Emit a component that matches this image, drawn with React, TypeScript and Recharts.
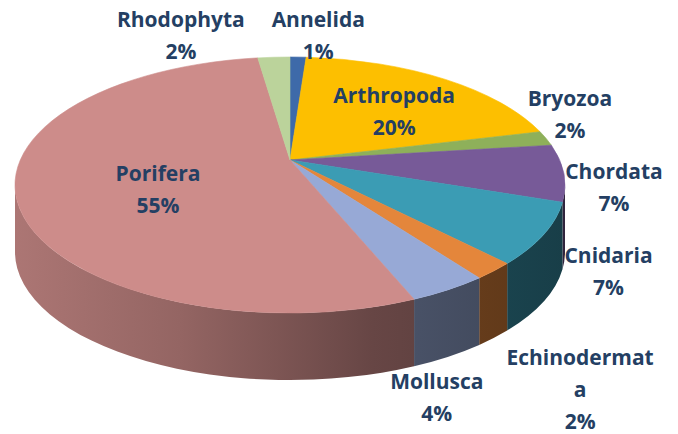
import React from 'react';
import { PieChart, Pie } from 'recharts';

// ---- data ----
const categories = ['Annelida', 'Arthropoda', 'Bryozoa', 'Chordata', 'Cnidaria', 'Echinodermata', 'Mollusca', 'Porifera', 'Rhodophyta'];
const shares = [1, 20, 2, 7, 7, 2, 4, 55, 2];
const topColors = ['#3e6aa9', '#fdbf00', '#8eb05a', '#775a98', '#3b9cb4', '#e4863b', '#97a9d6', '#cd8c8a', '#bbd39b'];
const labelWraps: Record<string, string[]> = { Echinodermata: ['Echinodermat', 'a'] };

// label placement: radial factor on the ellipse and angle shift from the slice mid-angle
const labelRadius = [1.17, 0.68, 1.157, 1.186, 1.36, 1.94, 1.77, 0.476, 1.228];
const labelAngleShift = [-3.6, 5, 16.8, 3.5, -0.4, -10, -14.6, -9.6, 14.9];

// ---- layout ----
const W = 678;
const H = 434;
const APX = 290; // pie apex (projected centre)
const APY = 160;
const ECX = 290; // projected ellipse centre
const ECY = 185;
const RX = 275;
const RY = 128;
const DEPTH = 67;
const PR = 270; // perspective model
const PRY = 123;
const KX = 0.05;
const KY = 0.195;
const LRX = 275; // label ellipse
const LRY = 127;
const LDX = -2;
const LDY = 23;
const D = Math.PI / 180;

const data = categories.map((name, i) => ({ name, value: shares[i], fill: topColors[i] }));

const shade = (hex: string, k: number) => {
  const n = parseInt(hex.slice(1), 16);
  const r = Math.round(((n >> 16) & 255) * k);
  const g = Math.round(((n >> 8) & 255) * k);
  const b = Math.round((n & 255) * k);
  return `rgb(${r},${g},${b})`;
};

// project a pie angle (degrees, maths convention) onto the rim ellipse
const proj = (cx: number, cy: number, theta: number) => {
  const s = Math.sin(theta * D);
  const c = Math.cos(theta * D);
  const dx = (PR * c) / (1 + KX * s);
  const dy = (-PRY * s) / (1 + KY * s);
  const ex = cx - APX + ECX;
  const ey = cy - APY + ECY;
  const ox = cx - ex;
  const oy = cy - ey;
  const A = (dx * dx) / (RX * RX) + (dy * dy) / (RY * RY);
  const B = 2 * ((ox * dx) / (RX * RX) + (oy * dy) / (RY * RY));
  const C = (ox * ox) / (RX * RX) + (oy * oy) / (RY * RY) - 1;
  const t = (-B + Math.sqrt(B * B - 4 * A * C)) / (2 * A);
  const x = cx + t * dx;
  const y = cy + t * dy;
  let phi = Math.atan2(-(y - ey) / RY, (x - ex) / RX) / D;
  while (phi - theta > 180) phi -= 360;
  while (theta - phi > 180) phi += 360;
  return { x, y, phi, ex, ey };
};

const ellPt = (ex: number, ey: number, phi: number): [number, number] => [
  ex + RX * Math.cos(phi * D),
  ey - RY * Math.sin(phi * D),
];

const SideShape = (props: any) => {
  const { cx, cy, startAngle, endAngle, fill } = props;
  const name = props.name ?? props.payload?.name;
  const idx = Math.max(0, categories.indexOf(name));
  const p1 = proj(cx, cy, startAngle);
  const p2 = proj(cx, cy, endAngle);
  const hi = Math.max(p1.phi, p2.phi);
  const lo = Math.min(p1.phi, p2.phi);
  const ex = p1.ex;
  const ey = p1.ey;
  const parts: [number, number][] = [];
  for (let k = -2; k <= 2; k++) {
    const a = Math.max(lo, -180 + 360 * k);
    const b = Math.min(hi, 360 * k);
    if (b > a) parts.push([a, b]);
  }
  if (!parts.length) return <g />;
  const gid = `side-grad-${idx}`;
  return (
    <g>
      <defs>
        <linearGradient id={gid} gradientUnits="userSpaceOnUse" x1={ex - RX} y1={0} x2={ex + RX} y2={0}>
          <stop offset="0" stopColor={shade(fill, 0.84)} />
          <stop offset="0.3" stopColor={shade(fill, 0.72)} />
          <stop offset="0.65" stopColor={shade(fill, 0.5)} />
          <stop offset="1" stopColor={shade(fill, 0.4)} />
        </linearGradient>
      </defs>
      {parts.map(([a, b], j) => {
        const [x1, y1] = ellPt(ex, ey, a);
        const [x2, y2] = ellPt(ex, ey, b);
        const d = `M${x1},${y1} A${RX},${RY} 0 0 0 ${x2},${y2} L${x2},${y2 + DEPTH} A${RX},${RY} 0 0 1 ${x1},${y1 + DEPTH} Z`;
        return <path key={j} d={d} fill={`url(#${gid})`} stroke="none" />;
      })}
    </g>
  );
};

const TopShape = (props: any) => {
  const { cx, cy, startAngle, endAngle, fill } = props;
  const p1 = proj(cx, cy, startAngle);
  const p2 = proj(cx, cy, endAngle);
  const large = Math.abs(p1.phi - p2.phi) > 180 ? 1 : 0;
  const sweep = endAngle < startAngle ? 1 : 0;
  return (
    <path
      d={`M${cx},${cy} L${p1.x},${p1.y} A${RX},${RY} 0 ${large} ${sweep} ${p2.x},${p2.y} Z`}
      fill={fill}
      stroke={fill}
      strokeWidth={0.6}
    />
  );
};

const LINE_H = 32;

const renderLabel = (p: any) => {
  const name = p.name ?? p.payload?.name;
  const i = Math.max(0, categories.indexOf(name));
  const a = (p.midAngle + labelAngleShift[i]) * D;
  const f = labelRadius[i];
  const x = p.cx + LDX + LRX * f * Math.cos(a);
  const y = p.cy + LDY - LRY * f * Math.sin(a);
  const pct = Math.round((p.percent ?? 0) * 100) + '%';
  const lines = [...(labelWraps[name] ?? [name]), pct];
  const y0 = y - ((lines.length - 1) * LINE_H) / 2 + 7.5;
  return (
    <text
      key={`lbl-${i}`}
      x={x}
      y={y0}
      textAnchor="middle"
      fill="#243f63"
      fontFamily="'Open Sans', sans-serif"
      fontWeight={700}
      fontSize={21}
    >
      {lines.map((l, k) => (
        <tspan key={k} x={x} y={y0 + k * LINE_H}>
          {l}
        </tspan>
      ))}
    </text>
  );
};

export default function App() {
  return (
    <div style={{ position: 'fixed', left: 0, top: 0, width: W, height: H, background: '#fff' }}>
      <PieChart width={W} height={H} margin={{ top: 0, right: 0, bottom: 0, left: 0 }}>
        <Pie
          data={data}
          dataKey="value"
          nameKey="name"
          cx={APX}
          cy={APY}
          outerRadius={RX}
          startAngle={90}
          endAngle={-270}
          stroke="none"
          isAnimationActive={false}
          shape={SideShape}
          inactiveShape={SideShape}
          activeShape={SideShape}
          labelLine={false}
          label={false}
        />
        <Pie
          data={data}
          dataKey="value"
          nameKey="name"
          cx={APX}
          cy={APY}
          outerRadius={RX}
          startAngle={90}
          endAngle={-270}
          stroke="none"
          isAnimationActive={false}
          shape={TopShape}
          inactiveShape={TopShape}
          activeShape={TopShape}
          labelLine={false}
          label={renderLabel}
        />
      </PieChart>
    </div>
  );
}
